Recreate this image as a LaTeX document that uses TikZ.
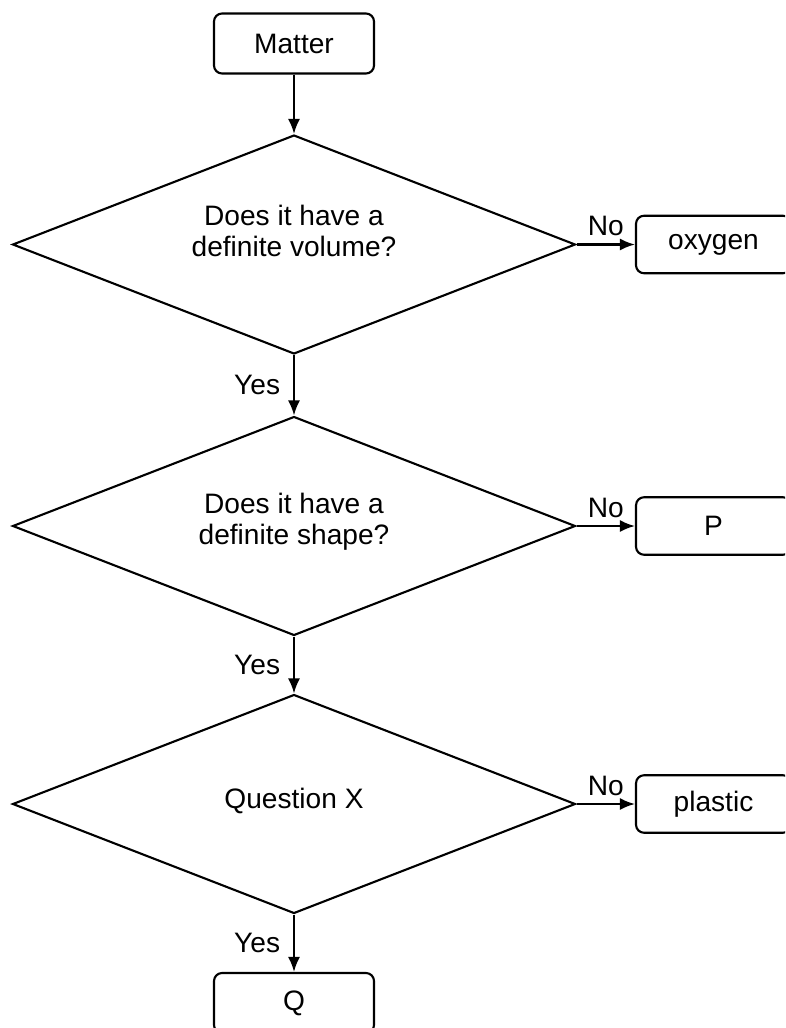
\documentclass[tikz,border=0pt]{standalone}
\usepackage{fontspec}
\setmainfont{Liberation Sans}
\usetikzlibrary{shapes.geometric,arrows.meta}
\begin{document}
\begin{tikzpicture}[x=0.02cm, y=-0.02cm, line width=1.2pt, >={Latex[length=0.3cm,width=0.24cm]}, font=\fontsize{16}{17.6}\selectfont,
box node/.style={rectangle,draw,rounded corners=0.16cm,minimum width=3.2cm,minimum height=1.2cm,inner sep=0pt},
side node/.style={box node,minimum width=3.1cm,minimum height=1.15cm},
decision node/.style={diamond,draw,minimum width=11.26cm,minimum height=4.38cm,inner sep=0pt},
question node/.style={align=center,inner sep=0pt}]
\useasboundingbox (0,0) rectangle (785,1028);
\clip (0,0) rectangle (785,1028);
% boxes and questions
\node[box node] (matter) at (294,43.5) {Matter};
\node[decision node] (q1) at (294,244.5) {};
\node[question node] (t1) at (294,231) {Does it have a\\definite volume?};
\node[side node] (oxygen) at (713.5,244.5) {oxygen};
\node[decision node] (q2) at (294,526) {};
\node[question node] (t2) at (294,522) {Does it have a\\definite shape?};
\node[side node] (p) at (713.5,526) {P};
\node[decision node] (q3) at (294,804) {};
\node[question node] (t3) at (294,801) {Question X};
\node[side node] (plastic) at (713.5,804) {plastic};
\node[box node] (q) at (294,1003) {Q};
% arrows
\draw[->] (matter) -- (q1);
\draw[->] (q1) -- node[left=4pt] {Yes} (q2);
\draw[->] (q2) -- node[left=4pt] {Yes} (q3);
\draw[->] (q3) -- node[left=4pt] {Yes} (q);
\draw[->] (q1.east) -- node[above=1pt] {No} (oxygen.west);
\draw[->] (q2.east) -- node[above=1pt] {No} (p.west);
\draw[->] (q3.east) -- node[above=1pt] {No} (plastic.west);
\end{tikzpicture}
\end{document}
